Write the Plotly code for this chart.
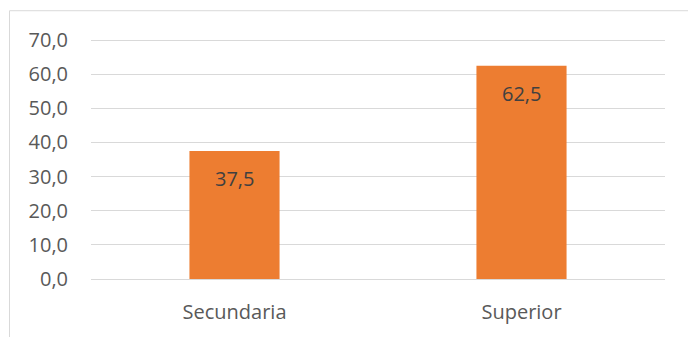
import plotly.graph_objects as go

categories = ["Secundaria", "Superior"]
values = [37.5, 62.5]
tick_vals = [0, 10, 20, 30, 40, 50, 60, 70]
tick_text = ["0,0", "10,0", "20,0", "30,0", "40,0", "50,0", "60,0", "70,0"]
value_labels = [f"{v:.1f}".replace(".", ",") for v in values]

FONT = "Open Sans"
FS = 20
W, H = 688, 337
ML, MR, MT, MB = 91, 23, 38, 56

fig = go.Figure()
fig.add_trace(go.Bar(
    x=categories, y=values,
    marker=dict(color="#ED7D31", line=dict(width=0)),
    width=0.314,
    hoverinfo="skip",
))

for c, v, t in zip(categories, values, value_labels):
    fig.add_annotation(x=c, y=v, text=t, showarrow=False, yanchor="middle",
                       yshift=-28, font=dict(family=FONT, size=FS, color="#404040"))

pw = W - ML - MR
ph = H - MT - MB
# chart border (top and left visible, extends beyond the canvas)
fig.add_shape(type="rect", xref="paper", yref="paper",
              x0=(9.5 - ML) / pw, x1=(W + 20 - ML) / pw,
              y0=-(H + 20 - MT - ph) / ph, y1=1 + (MT - 10.5) / ph,
              line=dict(color="#D9D9D9", width=1), fillcolor="rgba(0,0,0,0)", layer="below")

fig.update_layout(
    width=W, height=H,
    margin=dict(l=ML, r=MR, t=MT, b=MB),
    paper_bgcolor="white", plot_bgcolor="white",
    showlegend=False,
    font=dict(family=FONT, size=FS, color="#595959"),
    xaxis=dict(showgrid=False, showline=False, zeroline=False, ticks="",
               ticklabelstandoff=19, tickfont=dict(family=FONT, size=FS, color="#595959")),
    yaxis=dict(range=[0, 70.6], tickvals=tick_vals, ticktext=tick_text,
               showgrid=True, gridcolor="#D9D9D9", gridwidth=1,
               zeroline=True, zerolinecolor="#D9D9D9", zerolinewidth=1,
               showline=False, ticks="", ticklabelstandoff=22,
               tickfont=dict(family=FONT, size=FS, color="#595959")),
)

fig.write_html("out.html", config={"displayModeBar": False},
               post_script="document.body.style.margin='0';document.body.style.padding='0';")
